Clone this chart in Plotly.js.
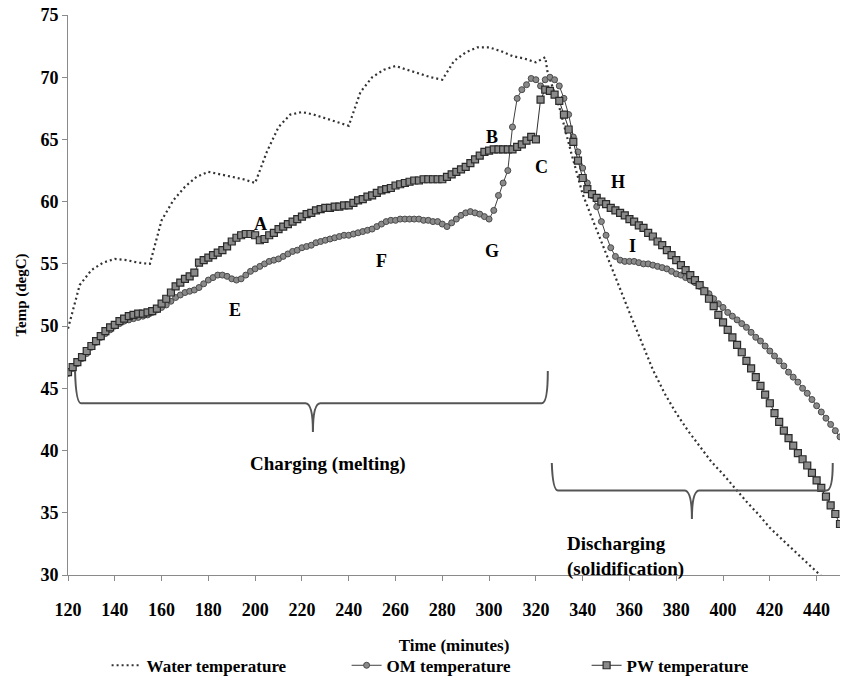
<!DOCTYPE html>
<html>
<head>
<meta charset="utf-8">
<script src="https://cdn.plot.ly/plotly-3.0.1.min.js"></script>
<style>html,body{margin:0;padding:0;background:#fff}#chart{width:843px;height:687px}</style>
</head>
<body>
<div id="chart"></div>
<script>
// ---- Data ----
const waterTime = [120,125,130,135,140,145,150,155,160,165,170,175,180,185,190,195,200,205,210,215,220,225,230,235,240,245,250,255,260,265,270,275,280,285,290,295,300,305,310,315,320,324,325,330,335,340,345,350,355,360,365,370,375,380,385,390,395,400,405,410,415,420,425,430,435,440,445,450];
const waterTemp = [49.8,53.3,54.5,55.1,55.4,55.3,55.1,55.0,58.5,60.1,61.2,62.0,62.4,62.2,62.0,61.8,61.5,64.0,66.0,67.0,67.2,67.0,66.7,66.4,66.1,68.8,70.0,70.6,70.9,70.6,70.3,70.0,69.8,71.3,72.0,72.4,72.4,72.1,71.7,71.5,71.2,71.6,70.4,67.6,64.0,60.6,58.2,55.8,53.4,51.1,48.8,46.5,44.6,43.0,41.6,40.3,39.1,38.1,37.0,35.9,34.9,33.8,32.9,32.0,31.1,30.2,29.3,28.5];

const pcmTime = [120,122,124,126,128,130,132,134,136,138,140,142,144,146,148,150,152,154,156,158,160,162,164,166,168,170,172,174,176,178,180,182,184,186,188,190,192,194,196,198,200,202,204,206,208,210,212,214,216,218,220,222,224,226,228,230,232,234,236,238,240,242,244,246,248,250,252,254,256,258,260,262,264,266,268,270,272,274,276,278,280,282,284,286,288,290,292,294,296,298,300,302,304,306,308,310,312,314,316,318,320,322,324,326,328,330,332,334,336,338,340,342,344,346,348,350,352,354,356,358,360,362,364,366,368,370,372,374,376,378,380,382,384,386,388,390,392,394,396,398,400,402,404,406,408,410,412,414,416,418,420,422,424,426,428,430,432,434,436,438,440,442,444,446,448,450];

const omTemp = [46.2,46.6,47.0,47.4,47.8,48.3,48.7,49.1,49.4,49.7,50.0,50.2,50.4,50.5,50.6,50.7,50.8,50.9,51.1,51.3,51.5,51.7,52.0,52.3,52.5,52.7,52.8,52.9,53.1,53.4,53.7,53.9,54.1,54.1,54.0,53.8,53.7,53.8,54.1,54.4,54.6,54.8,55.0,55.2,55.3,55.4,55.6,55.8,56.0,56.1,56.3,56.4,56.5,56.7,56.8,56.9,57.0,57.1,57.2,57.3,57.3,57.4,57.5,57.6,57.7,57.8,58.0,58.2,58.4,58.5,58.5,58.6,58.6,58.6,58.6,58.6,58.5,58.5,58.4,58.4,58.2,58.0,58.3,58.6,58.9,59.1,59.2,59.1,59.0,58.8,58.6,59.3,60.5,61.5,62.5,66.0,68.3,69.0,69.4,69.9,69.8,69.3,69.8,70.0,69.8,69.3,68.3,67.0,65.2,64.0,62.7,61.5,60.5,59.6,58.4,57.3,56.3,55.6,55.3,55.2,55.2,55.2,55.1,55.0,55.0,54.9,54.8,54.7,54.6,54.4,54.2,54.1,53.9,53.7,53.5,53.2,52.9,52.6,52.2,51.8,51.5,51.1,50.8,50.5,50.2,49.9,49.5,49.1,48.8,48.4,48.0,47.6,47.2,46.8,46.3,45.9,45.5,45.0,44.6,44.1,43.6,43.1,42.6,42.1,41.6,41.1];

const pwTemp = [46.3,46.7,47.1,47.5,48.0,48.4,48.8,49.2,49.6,49.9,50.1,50.4,50.6,50.8,50.9,51.0,51.0,51.1,51.2,51.4,51.8,52.2,52.7,53.2,53.5,53.8,54.0,54.3,55.1,55.3,55.5,55.7,55.9,56.1,56.4,56.8,57.1,57.3,57.4,57.4,57.3,56.9,57.0,57.3,57.5,57.8,58.0,58.2,58.4,58.6,58.8,59.0,59.1,59.3,59.4,59.5,59.5,59.6,59.6,59.7,59.7,59.9,60.1,60.2,60.4,60.5,60.7,60.9,61.0,61.1,61.3,61.4,61.5,61.6,61.7,61.7,61.8,61.8,61.8,61.8,61.8,62.0,62.2,62.4,62.6,62.8,63.1,63.4,63.7,64.0,64.1,64.2,64.2,64.2,64.2,64.2,64.4,64.6,64.9,65.2,65.0,68.2,69.0,68.9,68.6,68.1,67.0,65.8,64.8,63.3,61.9,61.0,60.6,60.3,60.0,59.8,59.5,59.3,59.1,58.9,58.6,58.4,58.1,57.9,57.5,57.2,56.8,56.5,56.1,55.7,55.3,54.9,54.5,54.1,53.7,53.3,52.8,52.2,51.6,50.9,50.3,49.7,49.1,48.5,47.9,47.2,46.6,45.9,45.2,44.5,43.8,43.0,42.3,41.6,41.0,40.4,39.8,39.3,38.8,38.2,37.6,37.0,36.3,35.6,34.9,34.1];

const seriesNames = ['Water temperature','OM temperature','PW temperature'];
const xTicks = [120,140,160,180,200,220,240,260,280,300,320,340,360,380,400,420,440];
const yTicks = [30,35,40,45,50,55,60,65,70,75];

const pointLabels = ['A','B','C','E','F','G','H','I'];
const pointLabelX = [202.1,301.2,322.6,191.4,254.2,301.2,355.0,361.5];
const pointLabelY = [58.2,65.2,62.8,51.3,55.2,56.0,61.6,56.4];

// ---- Chart ----
const FONT = 'Liberation Serif, Times New Roman, serif';

const traces = [
  {x: waterTime, y: waterTemp, name: seriesNames[0], mode: 'lines',
   line: {color: '#333', width: 2.2, dash: '2px,3px'}},
  {x: pcmTime, y: omTemp, name: seriesNames[1], mode: 'lines+markers',
   line: {color: '#404040', width: 1},
   marker: {symbol: 'circle', size: 6, color: '#8a8a8a', line: {color: '#4a4a4a', width: 1}}},
  {x: pcmTime, y: pwTemp, name: seriesNames[2], mode: 'lines+markers',
   line: {color: '#303030', width: 1},
   marker: {symbol: 'square', size: 7, color: '#8a8a8a', line: {color: '#2a2a2a', width: 1.2}}}
];

const annotations = pointLabels.map((t, i) => ({
  x: pointLabelX[i], y: pointLabelY[i], xref: 'x', yref: 'y', text: t, showarrow: false,
  font: {family: FONT, size: 18, color: '#000', weight: 'bold'}
}));
annotations.push({x: 231.1, y: 38.9, xref: 'x', yref: 'y', text: 'Charging (melting)', showarrow: false,
  font: {family: FONT, size: 19, color: '#000', weight: 'bold'}});
annotations.push({x: 332.4, y: 31.5, xref: 'x', yref: 'y', xanchor: 'left', align: 'left',
  text: 'Discharging<br>(solidification)', showarrow: false,
  font: {family: FONT, size: 19, color: '#000', weight: 'bold'}});

const braceLine = {color: '#555', width: 2};
const shapes = [
  {type: 'path', xref: 'x', yref: 'y', line: braceLine,
   path: 'M 123.0,46.4 Q 123.4,43.8 125.6,43.8 L 221.5,43.8 Q 224.7,43.8 224.7,41.5 Q 224.7,43.8 227.9,43.8 L 322.5,43.8 Q 325.1,43.8 325.1,46.4'},
  {type: 'path', xref: 'x', yref: 'y', line: braceLine,
   path: 'M 326.8,39.0 Q 327.2,36.8 329.4,36.8 L 383.5,36.8 Q 386.7,36.8 386.7,34.5 Q 386.7,36.8 389.9,36.8 L 444.3,36.8 Q 446.9,36.8 446.9,39.0'}
];

const layout = {
  width: 843, height: 687,
  margin: {l: 68, r: 3, t: 15, b: 109},
  paper_bgcolor: '#fff', plot_bgcolor: '#fff',
  font: {family: FONT, size: 17, color: '#000', weight: 'bold'},
  showlegend: true,
  legend: {orientation: 'h', x: 0.05, xanchor: 'left', y: -0.162, yanchor: 'middle',
    font: {family: FONT, size: 17, color: '#000', weight: 'bold'},
    entrywidth: 195, traceorder: 'normal'},
  xaxis: {
    range: [120, 450], tickmode: 'array', tickvals: xTicks,
    showgrid: false, zeroline: false, showline: true, linecolor: '#8a8a8a', linewidth: 1,
    ticks: 'outside', ticklen: 5, tickcolor: '#8a8a8a', ticklabelstandoff: 13,
    tickfont: {family: FONT, size: 18, color: '#000', weight: 'bold'},
    title: {text: 'Time (minutes)', standoff: 20, font: {family: FONT, size: 17, color: '#000', weight: 'bold'}}
  },
  yaxis: {
    range: [30, 75], tickmode: 'array', tickvals: yTicks,
    showgrid: false, zeroline: false, showline: true, linecolor: '#8a8a8a', linewidth: 1,
    ticks: 'outside', ticklen: 5, tickcolor: '#8a8a8a',
    tickfont: {family: FONT, size: 18, color: '#000', weight: 'bold'},
    title: {text: 'Temp (degC)', standoff: 10, font: {family: FONT, size: 15, color: '#000', weight: 'bold'}}
  },
  annotations: annotations,
  shapes: shapes
};

Plotly.newPlot('chart', traces, layout, {displayModeBar: false, staticPlot: true});
</script>
</body>
</html>
